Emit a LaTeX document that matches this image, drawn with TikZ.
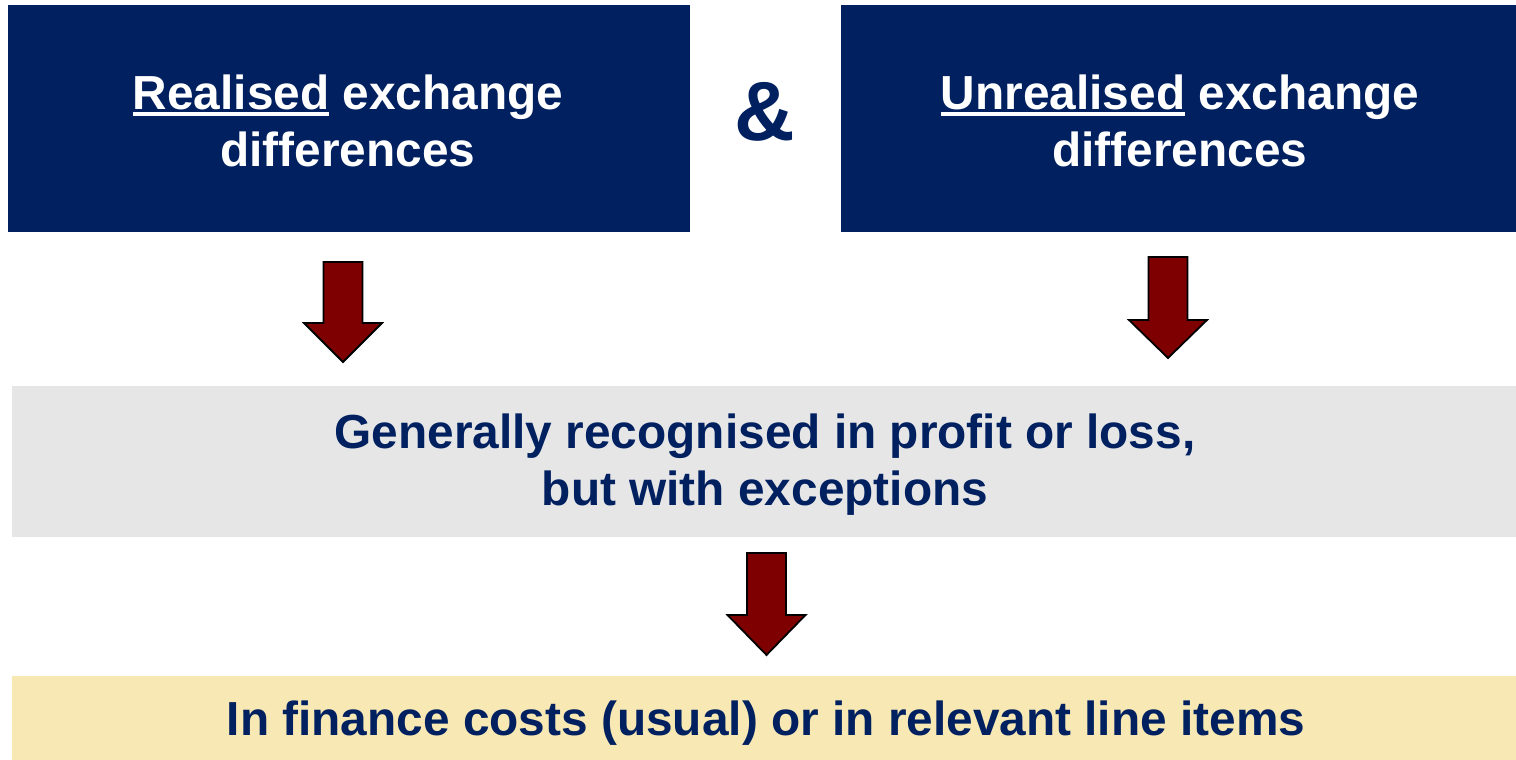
\documentclass[tikz,border=0pt]{standalone}
\usepackage{fontspec}
\setmainfont{Liberation Sans}
\definecolor{navy}{HTML}{002060}
\definecolor{arrowred}{HTML}{7F0000}
\definecolor{panelgray}{HTML}{E6E6E6}
\definecolor{panelcream}{HTML}{F8E8B4}
% thick underline below a word
\newcommand\ulword[1]{\setbox0\hbox{#1}\rlap{\rule[-3.4pt]{\wd0}{2pt}}\box0\relax}
\tikzset{
  headbox/.style={fill=navy, draw=none, text=white, align=center,
    font=\fontsize{23.9}{28.5}\selectfont\bfseries, inner sep=0pt},
  panel/.style={draw=none, text=navy, align=center,
    font=\fontsize{23.9}{28.5}\selectfont\bfseries, inner sep=0pt},
  downarrow/.style={fill=arrowred, draw=black, line width=0.9pt, line join=miter},
}
% block arrow pointing down: centre x, top y, shoulder y, tip y
\newcommand\downblock[4]{%
  \draw[downarrow] (#1-19.5,#2) -- (#1+19.5,#2) -- (#1+19.5,#3) -- (#1+39,#3)
    -- (#1,#4) -- (#1-39,#3) -- (#1-19.5,#3) -- cycle;}
\begin{document}
\begin{tikzpicture}[x=0.5pt, y=-0.5pt]
  \useasboundingbox (0,0) rectangle (1516,760);
  \fill[white] (0,0) rectangle (1516,760);

  % top boxes
  \node[headbox, minimum width=341pt, minimum height=113.5pt] (realised) at (349,118.5) {};
  \node[headbox, anchor=center] (realisedtxt) at (348,121) {\ulword{Realised} exchange\\differences};
  \node[headbox, minimum width=337.5pt, minimum height=113.5pt] (unrealised) at (1178.5,118.5) {};
  \node[headbox, anchor=center] (unrealisedtxt) at (1180,121) {\ulword{Unrealised} exchange\\differences};

  \node[text=navy, font=\fontsize{42}{42}\selectfont\bfseries, anchor=base, inner sep=0pt] (amp) at (765,140) {\&};

  % arrows into the middle panel
  \downblock{343}{262}{323}{362}
  \downblock{1168}{257}{320}{358}

  % middle panel
  \node[panel, fill=panelgray, minimum width=752pt, minimum height=75.5pt] (general) at (764,461.5) {};
  \node[panel, anchor=center] (generaltxt) at (765,465) {Generally recognised in profit or loss,\\but with exceptions};

  \downblock{766.5}{553}{615}{655}

  % bottom panel
  \node[panel, fill=panelcream, minimum width=752pt, minimum height=42pt] (finance) at (764,718) {};
  \node[panel, anchor=center] (financetxt) at (766,723) {In finance costs (usual) or in relevant line items};
\end{tikzpicture}
\end{document}
